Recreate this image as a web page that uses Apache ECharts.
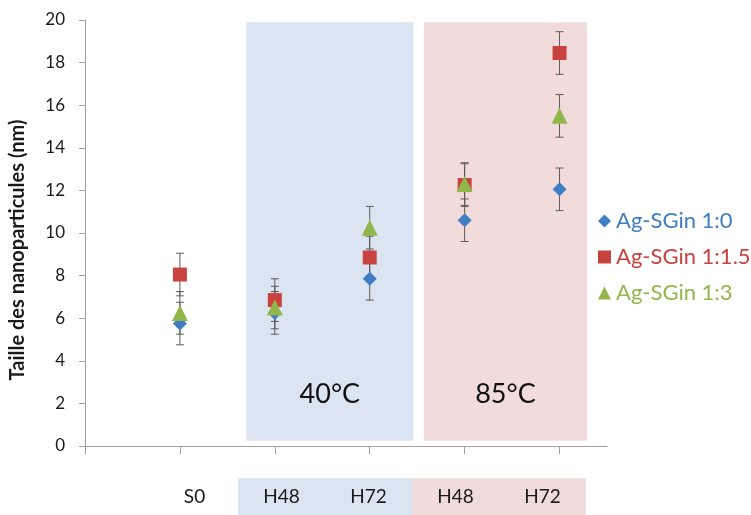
<!DOCTYPE html>
<html><head><meta charset="utf-8">
<script src="https://cdn.jsdelivr.net/npm/echarts@6/dist/echarts.min.js"></script>
<style>html,body{margin:0;padding:0;background:#fff}#c{width:751px;height:515px}</style>
</head><body><div id="c"></div>
<script>
const categories = ['S0', 'H48', 'H72', 'H48', 'H72'];
const xPositions = [1, 2, 3, 4, 5];
const seriesNames = ['Ag-SGin 1:0', 'Ag-SGin 1:1.5', 'Ag-SGin 1:3'];
const blueValues = [5.75, 6.25, 7.85, 10.6, 12.05];
const redValues = [8.05, 6.85, 8.85, 12.25, 18.45];
const greenValues = [6.25, 6.5, 10.25, 12.3, 15.5];
const blueErr = [1, 1, 1, 1, 1];
const redErr = [1, 1, 1, 1, 1];
const greenErr = [1, 1, 1, 1, 1];
const yTicks = [0, 2, 4, 6, 8, 10, 12, 14, 16, 18, 20];
const bandLabels = ['40°C', '85°C'];

const FONT = 'Lato, "Open Sans", sans-serif';
const colors = ['#3f7dc4', '#c8423f', '#93b64a'];
const symbols = ['diamond', 'rect', 'triangle'];
const sizes = [14, 14, 16];
const values = [blueValues, redValues, greenValues];
const errs = [blueErr, redErr, greenErr];

const chart = echarts.init(document.getElementById('c'), null, {renderer: 'canvas'});

function errSeries(vals, err) {
  return {
    type: 'custom',
    silent: true,
    z: 1,
    data: xPositions.map((x, i) => [x, vals[i] - err[i], vals[i] + err[i]]),
    renderItem: function (params, api) {
      const lo = api.coord([api.value(0), api.value(1)]);
      const hi = api.coord([api.value(0), api.value(2)]);
      const w = 4;
      const st = {stroke: '#5a5a5a', lineWidth: 1};
      return {type: 'group', children: [
        {type: 'line', shape: {x1: lo[0], y1: lo[1], x2: hi[0], y2: hi[1]}, style: st},
        {type: 'line', shape: {x1: lo[0] - w, y1: lo[1], x2: lo[0] + w, y2: lo[1]}, style: st},
        {type: 'line', shape: {x1: hi[0] - w, y1: hi[1], x2: hi[0] + w, y2: hi[1]}, style: st}
      ]};
    }
  };
}

const series = [];
values.forEach((v, k) => series.push(errSeries(v, errs[k])));
values.forEach((v, k) => {
  const s = {
    name: seriesNames[k],
    type: 'scatter',
    symbol: symbols[k],
    symbolSize: sizes[k],
    z: 3,
    itemStyle: {color: colors[k], opacity: 1},
    data: xPositions.map((x, i) => [x, v[i]])
  };
  if (k === 0) {
    s.markArea = {
      silent: true,
      z: 0,
      label: {position: 'insideBottom', distance: 33, fontSize: 27, color: '#111', fontFamily: FONT},
      data: [
        [{name: bandLabels[0], xAxis: 1.7, yAxis: 0.25, itemStyle: {color: '#dbe5f1', opacity: 1}}, {xAxis: 3.46, yAxis: 19.9}],
        [{name: bandLabels[1], xAxis: 3.57, yAxis: 0.25, itemStyle: {color: '#f2dcdb', opacity: 1}}, {xAxis: 5.29, yAxis: 19.9}]
      ]
    };
  }
  series.push(s);
});

const richBox = (bg) => ({backgroundColor: bg, width: 87, height: 37, lineHeight: 37, align: 'center', fontSize: 19, color: '#1a1a1a', fontFamily: FONT});

chart.setOption({
  animation: false,
  textStyle: {fontFamily: FONT},
  grid: [
    {left: 79, right: 144, top: 20, bottom: 69},
    {left: 151, width: 435, top: 478, height: 1}
  ],
  legend: {
    orient: 'vertical',
    left: 593, top: 204,
    itemGap: 12,
    itemWidth: 13, itemHeight: 13,
    textStyle: {fontSize: 22, lineHeight: 24, fontFamily: FONT},
    data: seriesNames.map((n, k) => ({name: n, icon: symbols[k], textStyle: {color: colors[k]}}))
  },
  xAxis: [{
    type: 'value', min: 0, max: 5.5,
    axisLine: {lineStyle: {color: '#a0a0a0'}},
    axisTick: {show: true, length: 8, lineStyle: {color: '#a0a0a0'}, customValues: [0, 1, 2, 3, 4, 5]},
    splitLine: {show: false},
    axisLabel: {show: false}
  }, {
    gridIndex: 1,
    type: 'category',
    position: 'bottom',
    data: categories,
    axisLine: {show: false},
    axisTick: {show: false},
    splitLine: {show: false},
    axisLabel: {
      margin: 0,
      interval: 0,
      verticalAlign: 'top',
      formatter: function (val, i) {
        const key = i === 0 ? 'w' : (i <= 2 ? 'b' : 'p');
        return '{' + key + '|' + val + '}';
      },
      rich: {w: richBox('transparent'), b: richBox('#dbe5f1'), p: richBox('#f2dcdb')}
    }
  }],
  yAxis: [{
    type: 'value', min: 0, max: 20, interval: 2,
    name: 'Taille des nanoparticules (nm)',
    nameLocation: 'middle', nameGap: 57,
    nameTextStyle: {fontSize: 20, fontWeight: 'bold', color: '#1a1a1a', fontFamily: FONT, padding: [0, 34, 0, 0]},
    axisLine: {show: true, lineStyle: {color: '#a0a0a0'}},
    axisTick: {show: true, length: 6, lineStyle: {color: '#a0a0a0'}},
    splitLine: {show: false},
    axisLabel: {fontSize: 17, color: '#1a1a1a', margin: 20, fontFamily: FONT,
      formatter: v => yTicks.includes(v) ? String(v) : ''}
  }, {
    gridIndex: 1, type: 'value', show: false
  }],
  series: series
});
</script></body></html>
